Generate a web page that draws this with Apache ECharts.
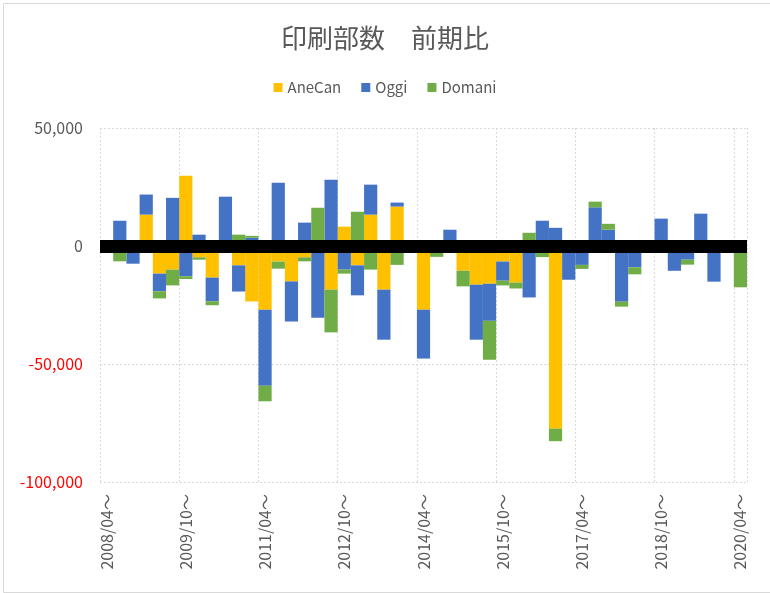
<!DOCTYPE html>
<html>
<head>
<meta charset="utf-8">
<script src="https://cdn.jsdelivr.net/npm/echarts@6/dist/echarts.min.js"></script>
<style>
html, body { margin: 0; padding: 0; background: #fff; }
#chart { width: 770px; height: 593px; }
</style>
</head>
<body>
<div id="chart"></div>
<script>
// 四半期ごとの区分
var periods = [
	'2008/04～', '2008/07～', '2008/10～', '2009/01～', '2009/04～', '2009/07～',
	'2009/10～', '2010/01～', '2010/04～', '2010/07～', '2010/10～', '2011/01～',
	'2011/04～', '2011/07～', '2011/10～', '2012/01～', '2012/04～', '2012/07～',
	'2012/10～', '2013/01～', '2013/04～', '2013/07～', '2013/10～', '2014/01～',
	'2014/04～', '2014/07～', '2014/10～', '2015/01～', '2015/04～', '2015/07～',
	'2015/10～', '2016/01～', '2016/04～', '2016/07～', '2016/10～', '2017/01～',
	'2017/04～', '2017/07～', '2017/10～', '2018/01～', '2018/04～', '2018/07～',
	'2018/10～', '2019/01～', '2019/04～', '2019/07～', '2019/10～', '2020/01～',
	'2020/04～'
];
var aneCanData = [
	0, 0, 0, 13300, -11700, -10000,
	29800, -4800, -13400, 0, -8200, -23500,
	-27000, -6600, -15000, -4800, 0, -18500,
	8200, -8200, 13300, -18500, 16700, 0,
	-27000, 0, 0, -10500, -16400, -16000,
	-6600, -15500, 0, -2700, -77400, 0,
	0, 0, 0, 0, 0, 0,
	0, 0, 0, 0, 0, 0,
	0
];
var oggiData = [
	0, 10700, -7500, 8500, -7500, 20400,
	-12800, 4800, -10000, 20900, -11100, 3500,
	-32200, 26800, -17000, 9900, -30400, 28100,
	-10000, -12700, 12700, -21200, 1700, 0,
	-20700, 0, 6900, 0, -23300, -15700,
	-8100, 0, -21800, 10700, 7700, -14300,
	-8000, 16400, 6900, -23600, -9000, 0,
	11600, -10500, -5800, 13700, -15100, 0,
	0
];
var domaniData = [
	0, -6500, 0, 0, -3000, -6700,
	-1200, -1000, -1700, 0, 4800, 800,
	-6600, -3000, 0, -1700, 16200, -18100,
	-1700, 14500, -10000, 0, -8000, 0,
	0, -4600, 0, -6600, 0, -16500,
	-2000, -2500, 5600, -2000, -5300, 0,
	-1700, 2400, 2500, -2100, -3000, 0,
	0, 0, -2100, 0, 0, 0,
	-17500
];

var fontName = '"Noto Sans CJK JP", "Noto Sans", sans-serif';

var obj = echarts.init(document.getElementById('chart'));
var option = {
	backgroundColor : '#ffffff',
	textStyle : { fontFamily : fontName },
	title : {
		text : '印刷部数　前期比',
		left : 'center',
		top : 20,
		textStyle : {
			fontSize : 26,
			fontWeight : 'normal',
			color : '#595959',
			fontFamily : fontName
		}
	},
	legend : {
		data : ['AneCan', 'Oggi', 'Domani'],
		top : 75,
		left : 'center',
		icon : 'rect',
		itemWidth : 9,
		itemHeight : 9,
		itemGap : 20,
		textStyle : {
			fontSize : 15,
			color : '#595959',
			fontFamily : fontName
		}
	},
	grid : {
		left : 100,
		right : 23,
		top : 128,
		bottom : 111,
		containLabel : false
	},
	color : ['#FFC000', '#4472C4', '#70AD47'],
	xAxis : {
		type : 'category',
		data : periods,
		boundaryGap : true,
		axisLine : { show : false, onZero : false },
		axisTick : { show : false },
		axisLabel : {
			interval : 5,
			rotate : 90,
			margin : 12,
			padding : [0, 0, 10, 0],
			fontSize : 16,
			color : '#595959',
			fontFamily : fontName
		},
		splitLine : {
			show : true,
			interval : function(index) {
				return index % 6 === 0 && index < periods.length;
			},
			lineStyle : { color : '#D9D9D9', width : 1, type : [2, 2] }
		}
	},
	yAxis : {
		type : 'value',
		min : -100000,
		max : 50000,
		interval : 50000,
		axisLine : { show : false },
		axisTick : { show : false },
		axisLabel : {
			margin : 17,
			fontSize : 16,
			fontFamily : fontName,
			formatter : function(v) {
				return v.toLocaleString('en-US');
			},
			color : function(v) {
				return Number(v) < 0 ? '#FF0000' : '#595959';
			}
		},
		splitLine : {
			lineStyle : { color : '#D9D9D9', width : 1, type : [2, 2] }
		}
	},
	series : [
		{
			name : 'AneCan',
			type : 'bar',
			stack : 'total',
			barCategoryGap : '0%',
			data : aneCanData
		}, {
			name : 'Oggi',
			type : 'bar',
			stack : 'total',
			barCategoryGap : '0%',
			data : oggiData
		}, {
			name : 'Domani',
			type : 'bar',
			stack : 'total',
			barCategoryGap : '0%',
			data : domaniData,
			markLine : {
				silent : true,
				symbol : ['none', 'none'],
				label : { show : false },
				lineStyle : { color : '#000000', width : 13, type : 'solid' },
				data : [{ yAxis : 0 }]
			}
		}
	],
	graphic : [
		{
			type : 'rect',
			left : 1,
			top : 1,
			shape : { width : 767, height : 589 },
			style : { fill : 'none', stroke : '#D9D9D9', lineWidth : 1 },
			silent : true
		}
	]
};
obj.setOption(option);
</script>
</body>
</html>
